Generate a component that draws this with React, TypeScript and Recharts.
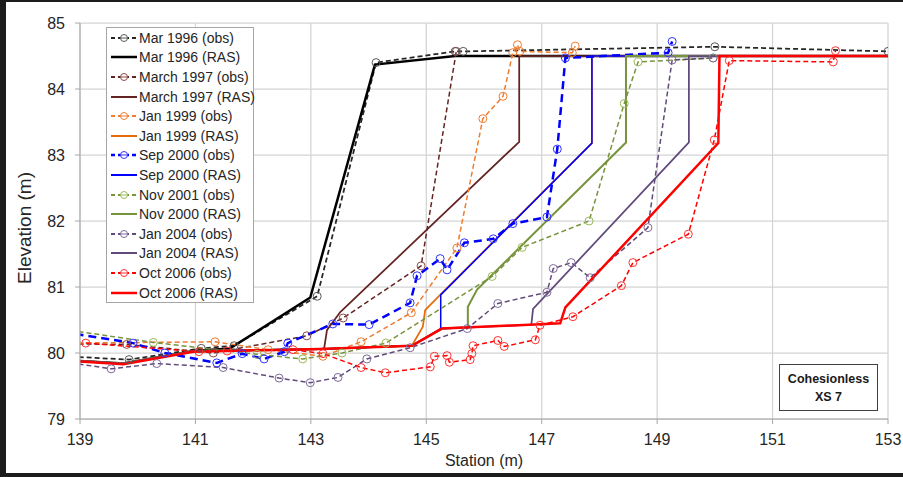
import React from "react";
import { LineChart, Line, XAxis, YAxis, CartesianGrid, Legend, Label } from "recharts";

// station (m), elevation (m)
const mar1996Obs = [[138.7, 79.95], [139.85, 79.9], [141.1, 80.07], [141.67, 80.11], [143.11, 80.86], [144.13, 84.4], [145.5, 84.57], [145.64, 84.57], [150.0, 84.64], [153, 84.57]];
const mar1996Ras = [[139, 79.88], [139.75, 79.84], [140.96, 80.03], [141.6, 80.07], [142.99, 80.84], [144.11, 84.37], [145.5, 84.5], [153, 84.5]];
const mar1997Obs = [[138.7, 80.14], [139.81, 80.13], [141.31, 80.0], [142.93, 80.26], [143.56, 80.53], [144.91, 81.32], [145.52, 84.57]];
const mar1997Ras = [[139, 79.88], [139.75, 79.84], [140.96, 80.03], [143.16, 80.06], [143.23, 80.07], [143.28, 80.35], [143.51, 80.62], [146.61, 83.2], [146.61, 84.5], [153, 84.5]];
const jan1999Obs = [[138.7, 80.15], [141.34, 80.17], [142.26, 80.05], [143.21, 79.95], [143.87, 80.17], [144.74, 80.61], [145.53, 81.59], [145.98, 83.55], [146.33, 83.89], [146.5, 84.55], [146.58, 84.67], [146.62, 84.57], [147.53, 84.55], [147.58, 84.65]];
const jan1999Ras = [[139, 79.88], [139.75, 79.84], [140.96, 80.03], [143.16, 80.06], [144.75, 80.11], [144.94, 80.4], [144.98, 80.65], [145.24, 80.88], [147.87, 83.18], [147.87, 84.5], [153, 84.5]];
const sep2000Obs = [[138.7, 80.32], [139.92, 80.15], [140.47, 80.0], [141.37, 79.85], [141.81, 79.99], [142.19, 79.91], [142.54, 80.02], [142.6, 80.15], [143.38, 80.44], [144.01, 80.43], [144.72, 80.76], [144.84, 81.17], [145.24, 81.43], [145.36, 81.26], [145.66, 81.67], [146.16, 81.73], [146.5, 81.96], [147.09, 82.06], [147.27, 83.09], [147.41, 84.47], [149.19, 84.55], [149.26, 84.72]];
const sep2000Ras = [[139, 79.88], [139.75, 79.84], [140.96, 80.03], [143.16, 80.06], [144.75, 80.11], [145.25, 80.37], [145.25, 80.88], [147.87, 83.18], [147.87, 84.5], [153, 84.5]];
const nov2001Obs = [[138.7, 80.36], [140.27, 80.16], [142.07, 79.98], [142.86, 79.91], [143.54, 80.0], [144.3, 80.15], [146.14, 81.16], [146.66, 81.6], [147.82, 82.0], [148.43, 83.78], [148.67, 84.41], [149.97, 84.47]];
const nov2000Ras = [[139, 79.88], [139.75, 79.84], [140.96, 80.03], [143.16, 80.06], [144.75, 80.11], [145.27, 80.37], [145.72, 80.39], [145.72, 80.7], [145.88, 80.96], [148.46, 83.19], [148.46, 84.5], [153, 84.5]];
const jan2004Obs = [[138.7, 79.87], [139.54, 79.76], [140.33, 79.84], [141.48, 79.78], [142.45, 79.62], [142.99, 79.55], [143.47, 79.63], [143.97, 79.91], [144.72, 80.08], [145.71, 80.37], [146.24, 80.75], [147.09, 80.92], [147.2, 81.28], [147.51, 81.37], [147.84, 81.14], [148.84, 81.9], [149.26, 84.44], [149.97, 84.47]];
const jan2004Ras = [[139, 79.88], [139.75, 79.84], [140.96, 80.03], [143.16, 80.06], [144.75, 80.11], [145.27, 80.37], [146.82, 80.43], [146.85, 80.67], [149.55, 83.19], [149.55, 84.5], [153, 84.5]];
const oct2006Obs = [[139.1, 80.15], [141.06, 80.02], [141.55, 80.03], [142.69, 80.05], [143.21, 79.99], [143.87, 79.78], [144.29, 79.7], [145.07, 79.79], [145.14, 79.95], [145.36, 79.96], [145.4, 79.86], [145.76, 79.9], [145.79, 79.99], [145.81, 80.11], [146.24, 80.19], [146.35, 80.1], [146.89, 80.2], [146.97, 80.42], [147.54, 80.55], [148.38, 81.02], [148.58, 81.37], [149.54, 81.8], [149.99, 83.23], [150.25, 84.43], [152.05, 84.41], [152.09, 84.58]];
const oct2006Ras = [[139, 79.87], [139.75, 79.83], [140.96, 80.02], [143.16, 80.06], [144.75, 80.11], [145.27, 80.37], [147.32, 80.45], [147.41, 80.69], [150.06, 83.18], [150.08, 84.5], [153, 84.5]];

const xTicks = [139, 141, 143, 145, 147, 149, 151, 153];
const yTicks = [79, 80, 81, 82, 83, 84, 85];

const toPts = (arr: number[][]) => arr.map(([x, y]) => ({ x, y }));

type Series = {
  name: string;
  pts: number[][];
  color: string;
  width: number;
  dash?: string;
  marker?: string;
};

const series: Series[] = [
  { name: "Mar 1996 (obs)", pts: mar1996Obs, color: "#262626", width: 1.75, dash: "5 3", marker: "#595959" },
  { name: "Mar 1996 (RAS)", pts: mar1996Ras, color: "#000000", width: 2.5 },
  { name: "March 1997 (obs)", pts: mar1997Obs, color: "#632523", width: 1.5, dash: "5 3", marker: "#8a4b49" },
  { name: "March 1997 (RAS)", pts: mar1997Ras, color: "#632523", width: 1.75 },
  { name: "Jan 1999 (obs)", pts: jan1999Obs, color: "#ED7D31", width: 1.5, dash: "5 3", marker: "#ED7D31" },
  { name: "Jan 1999 (RAS)", pts: jan1999Ras, color: "#E46C0A", width: 1.75 },
  { name: "Sep 2000 (obs)", pts: sep2000Obs, color: "#0000FF", width: 2.5, dash: "8 5", marker: "#3333FF" },
  { name: "Sep 2000 (RAS)", pts: sep2000Ras, color: "#0000FF", width: 1.5 },
  { name: "Nov 2001 (obs)", pts: nov2001Obs, color: "#77933C", width: 1.5, dash: "5 3", marker: "#9BBB59" },
  { name: "Nov 2000 (RAS)", pts: nov2000Ras, color: "#77933C", width: 2 },
  { name: "Jan 2004 (obs)", pts: jan2004Obs, color: "#604A7B", width: 1.5, dash: "5 3", marker: "#7f6a99" },
  { name: "Jan 2004 (RAS)", pts: jan2004Ras, color: "#604A7B", width: 1.75 },
  { name: "Oct 2006 (obs)", pts: oct2006Obs, color: "#FF0000", width: 1.5, dash: "5 3", marker: "#FF3333" },
  { name: "Oct 2006 (RAS)", pts: oct2006Ras, color: "#FF0000", width: 2.5 },
];

const font = "'Liberation Sans', Arial, sans-serif";

function LegendBox() {
  return (
    <div
      style={{
        background: "#fff",
        border: "1px solid #a6a6a6",
        width: 148,
        height: 276,
        boxSizing: "border-box",
        fontFamily: font,
      }}
    >
      {series.map((s) => (
        <div key={s.name} style={{ height: 19.6, display: "flex", alignItems: "center" }}>
          <svg width={32} height={12} style={{ flex: "none" }}>
            <line x1={4} y1={6} x2={30} y2={6} stroke={s.color} strokeWidth={s.width > 2 ? 2.5 : 2} strokeDasharray={s.dash ? "4 3" : undefined} />
            {s.marker && <circle cx={17} cy={6} r={3.5} fill="#fff" stroke={s.marker} strokeWidth={1} />}
            {s.marker && <line x1={14} y1={6} x2={20} y2={6} stroke={s.marker} strokeWidth={1} />}
          </svg>
          <span style={{ fontSize: 14, color: "#262626", whiteSpace: "nowrap" }}>{s.name}</span>
        </div>
      ))}
    </div>
  );
}

export default function App() {
  return (
    <div style={{ position: "absolute", left: 0, top: 0, width: 903, height: 477, background: "#1c1c1c", fontFamily: font }}>
      <div style={{ position: "absolute", left: 6, top: 2, width: 897, height: 471, background: "#fff" }} />
      <div style={{ position: "absolute", left: 0, top: 0 }}>
        <LineChart width={903} height={477} margin={{ top: 23, right: 15, bottom: 8, left: 0 }}>
          <CartesianGrid stroke="#d4d4d4" strokeWidth={1.25} />
          <XAxis
            type="number"
            dataKey="x"
            domain={[139, 153]}
            ticks={xTicks}
            allowDataOverflow
            height={50}
            tickSize={5}
            tickMargin={10}
            stroke="#a6a6a6"
            tick={{ fill: "#262626", fontSize: 16, fontFamily: font }}
          >
            <Label value="Station (m)" position="insideBottom" offset={3} fill="#262626" fontSize={16} fontFamily={font} />
          </XAxis>
          <YAxis
            type="number"
            dataKey="y"
            domain={[79, 85]}
            ticks={yTicks}
            allowDataOverflow
            width={80}
            tickSize={5}
            tickMargin={10}
            stroke="#a6a6a6"
            tick={{ fill: "#262626", fontSize: 16, fontFamily: font }}
          >
            <Label
              content={() => (
                <text x={24} y={228} transform="rotate(-90 24 228)" textAnchor="middle" dominantBaseline="central" fill="#262626" fontSize={19} fontFamily={font}>
                  Elevation (m)
                </text>
              )}
            />
          </YAxis>
          <Legend
            layout="vertical"
            align="center"
            verticalAlign="middle"
            content={() => <LegendBox />}
            wrapperStyle={{ position: "absolute", left: 106, top: 27, width: 148, height: 276 }}
          />
          {series.map((s) => (
            <Line
              key={s.name}
              name={s.name}
              data={toPts(s.pts)}
              dataKey="y"
              type="linear"
              stroke={s.color}
              strokeWidth={s.width}
              strokeDasharray={s.dash}
              dot={s.marker ? { r: 4, fill: "none", stroke: s.marker, strokeWidth: 1, strokeDasharray: "none" } : false}
              activeDot={false}
              isAnimationActive={false}
              legendType="none"
            />
          ))}
        </LineChart>
      </div>
      <div
        style={{
          position: "absolute",
          left: 779,
          top: 364,
          width: 99,
          height: 47,
          boxSizing: "border-box",
          border: "1.5px solid #404040",
          background: "#fff",
          display: "flex",
          flexDirection: "column",
          alignItems: "center",
          justifyContent: "center",
          fontWeight: "bold",
          fontSize: 12.5,
          lineHeight: "18px",
          color: "#1a1a1a",
        }}
      >
        <div>Cohesionless</div>
        <div>XS 7</div>
      </div>
    </div>
  );
}
